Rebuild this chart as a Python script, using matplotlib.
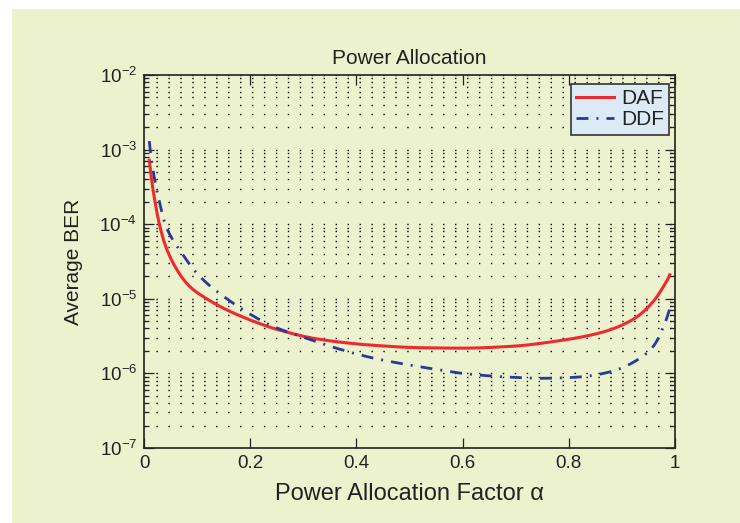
import numpy as np
import matplotlib
matplotlib.use("Agg")
import matplotlib.pyplot as plt
from matplotlib.patches import Rectangle
from matplotlib.ticker import LogLocator, FixedLocator, NullFormatter

plt.rcParams['font.family'] = ['Liberation Sans', 'DejaVu Sans']
plt.rcParams['mathtext.fontset'] = 'custom'
plt.rcParams['mathtext.rm'] = 'Liberation Sans'
plt.rcParams['mathtext.it'] = 'Liberation Sans:italic'
plt.rcParams['mathtext.bf'] = 'Liberation Sans:bold'

# ---- data ----
alpha_daf = [0.01, 0.0144, 0.0207, 0.029, 0.039, 0.055, 0.0866, 0.118, 0.156, 0.20, 0.25,
             0.331, 0.426, 0.52, 0.60, 0.689, 0.783, 0.859, 0.921, 0.959, 0.978, 0.99]
ber_daf = [7.2e-4, 3.9e-4, 2.0e-4, 1.0e-4, 5.5e-5, 3.0e-5, 1.45e-5, 1.0e-5, 7.1e-6, 5.2e-6, 3.9e-6,
           2.86e-6, 2.4e-6, 2.21e-6, 2.18e-6, 2.3e-6, 2.75e-6, 3.5e-6, 5.3e-6, 9.2e-6, 1.45e-5, 2.1e-5]

alpha_ddf = [0.01, 0.02, 0.029, 0.040, 0.071, 0.105, 0.156, 0.209, 0.237, 0.30, 0.363,
             0.426, 0.488, 0.551, 0.60, 0.689, 0.752, 0.815, 0.878, 0.928, 0.959, 0.978, 0.99]
ber_ddf = [1.3e-3, 4.0e-4, 2.0e-4, 1.0e-4, 4.1e-5, 2.0e-5, 1.0e-5, 5.7e-6, 4.45e-6, 3.05e-6, 2.17e-6,
           1.64e-6, 1.34e-6, 1.13e-6, 1.0e-6, 8.9e-7, 8.6e-7, 8.9e-7, 1.05e-6, 1.5e-6, 2.3e-6, 4.2e-6, 7.5e-6]

xtick_vals = [0, 0.2, 0.4, 0.6, 0.8, 1]
xtick_labels = ['0', '0.2', '0.4', '0.6', '0.8', '1']
series_names = ['DAF', 'DDF']
title_text = 'Power Allocation'
xlabel_text = 'Power Allocation Factor α'
ylabel_text = 'Average BER'

# ---- styling ----
cream = '#ecf2cd'
W, H = 740, 523
fig = plt.figure(figsize=(W / 100, H / 100), dpi=100, facecolor='white')
fig.patches.append(Rectangle((12 / W, 0), 1, (H - 9) / H, transform=fig.transFigure,
                             facecolor=cream, edgecolor='none', zorder=-10))

ax = fig.add_axes([144 / W, (H - 448) / H, 531 / W, 373 / H])
ax.set_facecolor(cream)


def pchip(xs, ys, xx):
    h = np.diff(xs); d = np.diff(ys) / h
    m = np.zeros_like(ys)
    for k in range(1, len(xs) - 1):
        if d[k - 1] * d[k] > 0:
            w1 = 2 * h[k] + h[k - 1]; w2 = h[k] + 2 * h[k - 1]
            m[k] = (w1 + w2) / (w1 / d[k - 1] + w2 / d[k])
    m[0] = d[0]; m[-1] = d[-1]
    idx = np.clip(np.searchsorted(xs, xx) - 1, 0, len(xs) - 2)
    t = (xx - xs[idx]) / h[idx]
    h00 = 2 * t**3 - 3 * t**2 + 1; h10 = t**3 - 2 * t**2 + t
    h01 = -2 * t**3 + 3 * t**2; h11 = t**3 - t**2
    return h00 * ys[idx] + h10 * h[idx] * m[idx] + h01 * ys[idx + 1] + h11 * h[idx] * m[idx + 1]


def smooth(xs, ys, n=600):
    xs = np.asarray(xs, float); ly = np.log10(np.asarray(ys, float))
    u = np.log(xs / (1 - xs))
    xx = np.linspace(xs[0], xs[-1], n)
    uu = np.log(xx / (1 - xx))
    return xx, 10 ** pchip(u, ly, uu)


xd, yd = smooth(alpha_daf, ber_daf)
xq, yq = smooth(alpha_ddf, ber_ddf)
ax.plot(xd, yd, color='#ee2a2e', lw=2.2, label=series_names[0], zorder=3)
ax.plot(xq, yq, color='#2b3896', lw=2.0, dashes=(4.3, 2.9, 0.7, 2.9), label=series_names[1], zorder=3)

ax.set_yscale('log')
ax.set_xlim(0, 1)
ax.set_ylim(1e-7, 1e-2)
ax.xaxis.set_major_locator(FixedLocator(xtick_vals))
ax.set_xticklabels(xtick_labels)
ax.yaxis.set_major_locator(LogLocator(base=10, numticks=10))
ax.yaxis.set_minor_locator(LogLocator(base=10, subs=np.arange(2, 10), numticks=20))
ax.yaxis.set_minor_formatter(NullFormatter())

ax.tick_params(which='both', direction='in', top=True, right=True, colors='#222222',
               labelsize=13.5, pad=5)
ax.tick_params(which='major', length=7, width=0.9)
ax.tick_params(which='minor', length=3.6, width=0.9)
for s in ax.spines.values():
    s.set_linewidth(1.2)
    s.set_color('#222222')

ax.grid(True, which='both', axis='y', color='black', lw=1.0, dashes=(1, 7.6))

ax.set_title(title_text, fontsize=15, color='#222222', pad=8)
ax.set_xlabel(xlabel_text, fontsize=17, color='#222222', labelpad=8)
ax.set_ylabel(ylabel_text, fontsize=15, color='#222222', labelpad=12)

leg = ax.legend(loc='upper right', bbox_to_anchor=((669 - 144) / 531, (448 - 84) / 373),
                borderaxespad=0, fontsize=15, frameon=True, fancybox=False,
                handlelength=1.8, handletextpad=0.35, labelspacing=0.1, borderpad=0.25)
leg.get_frame().set_facecolor('#dceaf5')
leg.get_frame().set_edgecolor('#333333')
leg.get_frame().set_linewidth(1.2)
leg.get_frame().set_alpha(1)
for t in leg.get_texts():
    t.set_color('#222222')

fig.savefig('out.png', dpi=100, facecolor='white')
